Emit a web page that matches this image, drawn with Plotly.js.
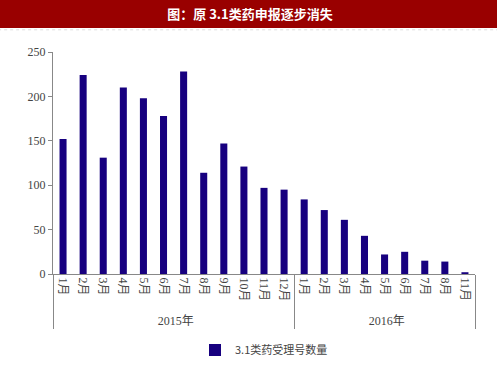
<!DOCTYPE html>
<html><head><meta charset="utf-8">
<script src="https://cdn.plot.ly/plotly-3.0.1.min.js"></script>
<style>html,body{margin:0;padding:0;background:#fff}#chart{width:497px;height:378px}</style>
</head><body><div id="chart"></div>
<script>
var years = ['2015年','2015年','2015年','2015年','2015年','2015年','2015年','2015年','2015年','2015年','2015年','2015年',
             '2016年','2016年','2016年','2016年','2016年','2016年','2016年','2016年','2016年'];
var months = ['1月','2月','3月','4月','5月','6月','7月','8月','9月','10月','11月','12月',
              '1月','2月','3月','4月','5月','6月','7月','8月','11月'];
var counts = [152,224,131,210,198,178,228,114,147,121,97,95,
              84,72,61,43,22,25,15,14,2];
var seriesName = '3.1类药受理号数量';
var titleText = '图：原 3.1类药申报逐步消失';

var serif = 'Liberation Serif, Noto Sans CJK SC, serif';
var trace = {
  type: 'bar',
  x: [years, months],
  y: counts,
  name: seriesName,
  marker: {color: '#17007f', line: {width: 0}},
  showlegend: true
};
var layout = {
  width: 497, height: 378,
  margin: {l: 53, r: 22, t: 52, b: 104},
  paper_bgcolor: '#fff', plot_bgcolor: '#fff',
  bargap: 0.65,
  font: {family: serif, size: 11, color: '#333'},
  title: {text: '<b>' + titleText + '</b>', font: {color: '#fff', size: 13, family: 'Noto Sans CJK SC'},
          xref: 'container', x: 0.503, xanchor: 'center', yref: 'container', y: 0.963, yanchor: 'middle'},
  xaxis: {
    type: 'multicategory',
    showline: true, linecolor: '#888', linewidth: 1,
    ticks: '', tickangle: 90,
    tickfont: {family: serif, size: 12, color: '#444'},
    showdividers: true, dividercolor: '#888', dividerwidth: 1,
    showgrid: false, zeroline: false
  },
  yaxis: {
    range: [0, 250], tickvals: [0,50,100,150,200,250],
    showline: true, linecolor: '#888', linewidth: 1,
    ticks: 'outside', ticklen: 4, tickcolor: '#888',
    tickfont: {family: serif, size: 12, color: '#444'},
    showgrid: false, zeroline: false
  },
  legend: {orientation: 'h', xref: 'paper', x: 0.5, xanchor: 'center', y: -0.342, yanchor: 'middle',
           font: {family: 'Noto Sans CJK SC', size: 11, color: '#444'}},
  shapes: [
    {type: 'rect', xref: 'paper', yref: 'paper', x0: -0.13, x1: 1.06, y0: 1.108, y1: 1.24,
     fillcolor: '#990000', line: {width: 0}, layer: 'below'},
    {type: 'line', xref: 'paper', yref: 'paper', x0: -0.13, x1: 1.06, y0: 1.1, y1: 1.1,
     line: {color: '#ddd', width: 1, dash: 'dot'}, layer: 'below'}
  ]
};
Plotly.newPlot('chart', [trace], layout, {displayModeBar: false, staticPlot: true});
</script></body></html>
